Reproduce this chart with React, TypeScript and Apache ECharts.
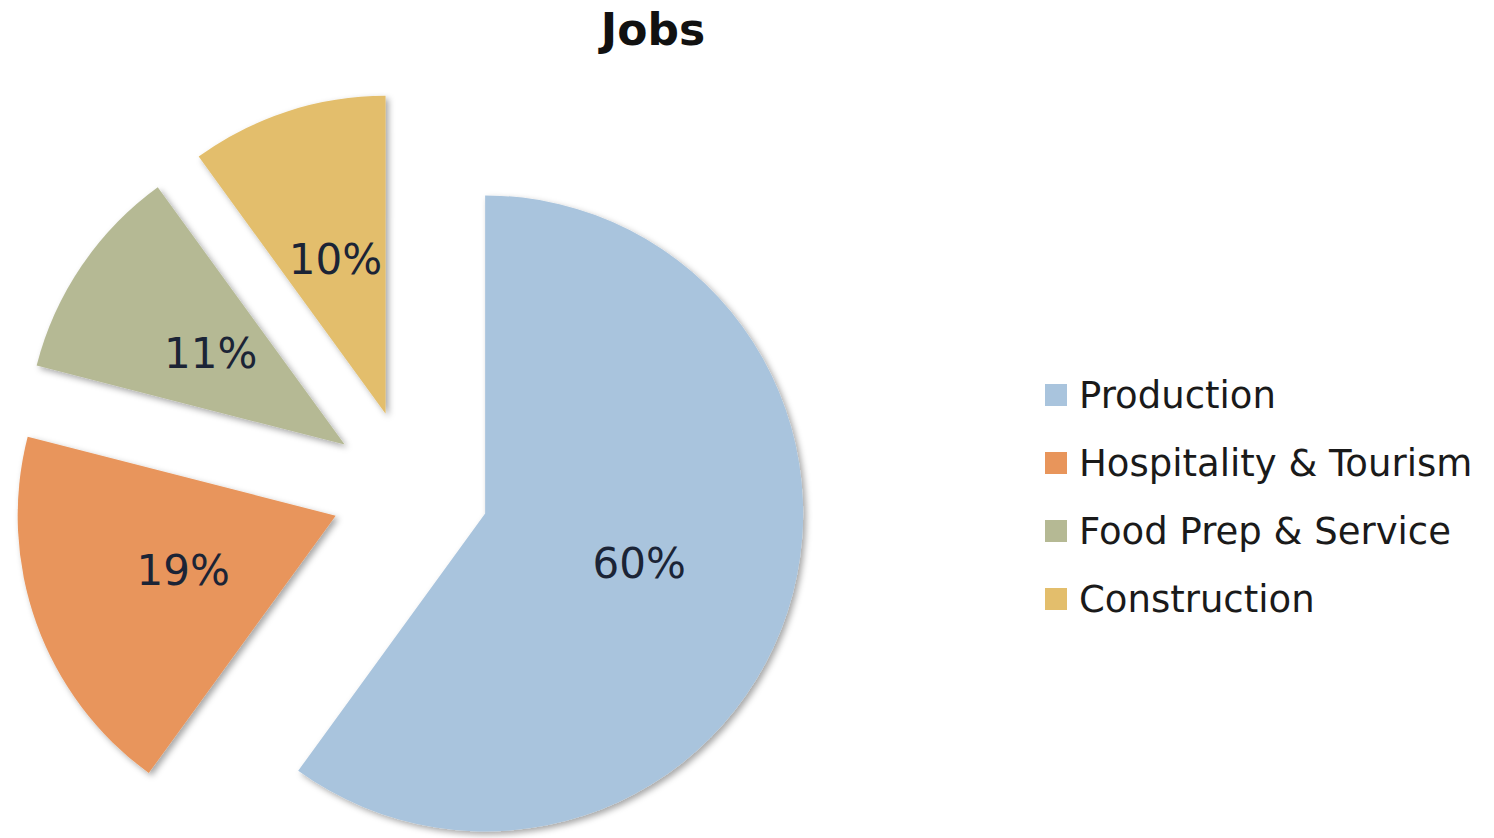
import React, { useEffect, useRef } from "react";
import * as echarts from "echarts";

const categories = ["Production", "Hospitality & Tourism", "Food Prep & Service", "Construction"];
const values = [60, 19, 11, 10];
const colors = ["#A9C4DD", "#E8955B", "#B5B994", "#E3BE6C"];
const titleText = "Jobs";

export default function App() {
  const ref = useRef<HTMLDivElement>(null);
  useEffect(() => {
    if (!ref.current) return;
    const chart = echarts.init(ref.current, undefined, { renderer: "svg" });
    const font = "'DejaVu Sans', sans-serif";
    chart.setOption({
      animation: false,
      title: {
        text: titleText,
        left: 648,
        top: 2,
        textAlign: "center",
        textStyle: { fontSize: 44, fontWeight: "bold", color: "#111", fontFamily: font },
      },
      legend: {
        orient: "vertical",
        left: 1040,
        top: 369,
        itemWidth: 22,
        itemHeight: 22,
        itemGap: 26,
        icon: "rect",
        selectedMode: false,
        textStyle: { fontSize: 37, color: "#1a1a1a", fontFamily: font, lineHeight: 42, padding: [0, 0, 0, 7] },
        data: categories,
      },
      series: [
        {
          type: "pie",
          center: [410, 489],
          radius: 318,
          startAngle: 90,
          clockwise: true,
          selectedMode: "multiple",
          selectedOffset: 79,
          emphasis: { disabled: true },
          label: {
            show: true,
            position: "inside",
            formatter: "{c}%",
            fontSize: 42,
            color: "#1b2436",
            fontFamily: font,
          },
          labelLine: { show: false },
          itemStyle: {
            shadowBlur: 6,
            shadowColor: "rgba(0,0,0,0.35)",
            shadowOffsetX: 3,
            shadowOffsetY: 3,
          },
          data: categories.map((name, i) => ({
            name,
            value: values[i],
            selected: true,
            itemStyle: { color: colors[i] },
          })),
        },
      ],
    });
    return () => chart.dispose();
  }, []);
  return (
    <div
      ref={ref}
      style={{ position: "fixed", left: 0, top: 0, width: 1494, height: 838, background: "#fff" }}
    />
  );
}
